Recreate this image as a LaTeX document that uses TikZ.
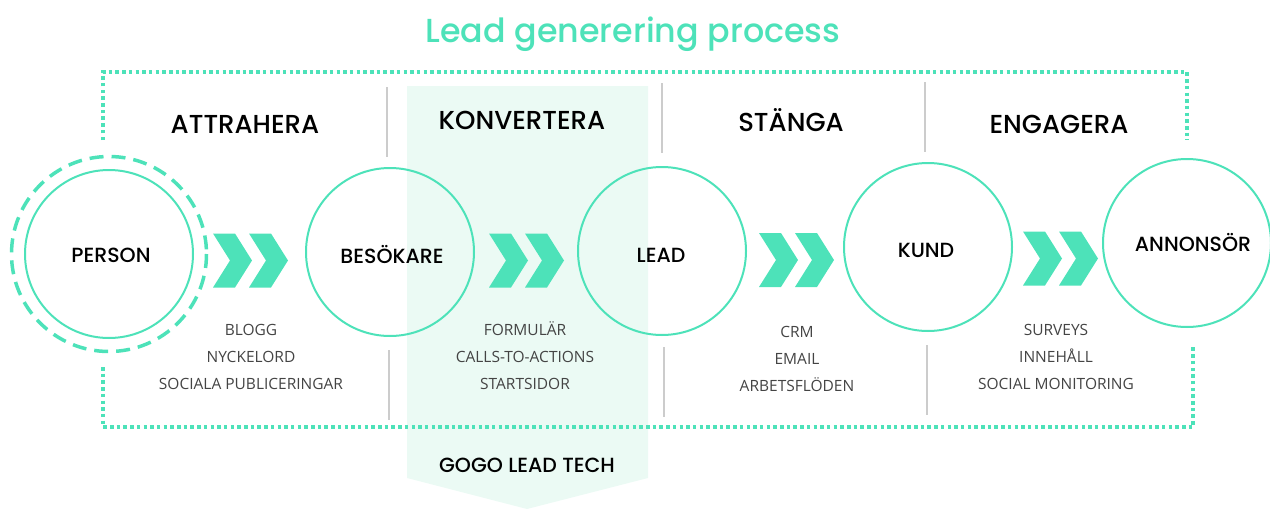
\documentclass[tikz,border=0pt]{standalone}
\usepackage{fontspec}
\setmainfont{Open Sans}
\newfontfamily\geo{Poppins Medium}
\definecolor{mint}{HTML}{4DE2B9}
\definecolor{bandfill}{HTML}{EBFAF4}
\definecolor{sepgray}{HTML}{CCCCCC}
\definecolor{listgray}{HTML}{444444}
\tikzset{
  stage/.style={circle,draw=mint,line width=2pt,minimum size=168pt,inner sep=0pt},
  stagelabel/.style={font=\geo\fontsize{20.5}{20.5}\selectfont,text=black,anchor=base,inner sep=0pt},
  header/.style={font=\geo\fontsize{26}{26}\selectfont,text=black,anchor=base,inner sep=0pt},
  listtext/.style={font=\fontsize{15.5}{27}\selectfont,text=listgray,align=center,anchor=base,inner sep=0pt},
  frameline/.style={mint,line width=3.5pt,dash pattern=on 3.5pt off 3.2pt},
  seprule/.style={sepgray,line width=2pt},
  chevpair/.pic={
    \fill[mint] (0,-27)--(22,-27)--(39,0)--(22,27)--(0,27)--(17,0)--cycle;
    \fill[mint] (36,-27)--(58,-27)--(75,0)--(58,27)--(36,27)--(53,0)--cycle;
  }
}
\begin{document}
\begin{tikzpicture}[x=1pt,y=-1pt]
\useasboundingbox (0,0) rectangle (1270,509);
% band
\fill[bandfill] (407,86) -- (648,86) -- (648,478) -- (527,509) -- (407,478) -- cycle;
% title
\node[font=\geo\fontsize{33.3}{33.3}\selectfont,text=mint,anchor=base,inner sep=0pt] (title) at (633,42) {Lead generering process};
% dotted frame
\draw[frameline] (103,140) -- (103,72) -- (1187,72) -- (1187,140);
\draw[frameline] (103,367) -- (103,427) -- (1193,427) -- (1193,347);
% separators
\draw[seprule] (387,87) -- (387,157);
\draw[seprule] (389,350) -- (389,420);
\draw[seprule] (662,83) -- (662,153);
\draw[seprule] (664,347) -- (664,417);
\draw[seprule] (925,82) -- (925,152);
\draw[seprule] (927,345) -- (927,415);
% circles
\node[stage] (person) at (109,254) {};
\draw[mint,line width=3.5pt,dash pattern=on 14pt off 8pt] (person.center) circle[radius=97.5];
\node[stage] (besokare) at (390,252) {};
\node[stage] (lead) at (662,251) {};
\node[stage] (kund) at (928,247) {};
\node[stage] (annonsor) at (1187,243) {};
% circle labels
\node[stagelabel] (personl) at (111,262) {PERSON};
\node[stagelabel] (besokarel) at (392,263) {BESÖKARE};
\node[stagelabel] (leadl) at (661,262) {LEAD};
\node[stagelabel] (kundl) at (926,257) {KUND};
\node[stagelabel] (annonsorl) at (1193,251) {ANNONSÖR};
% chevrons
\pic at (213,260.5) {chevpair};
\pic at (489,260.5) {chevpair};
\pic at (759,260) {chevpair};
\pic at (1023,258.5) {chevpair};
% headers
\node[header] (h1) at (245,133) {ATTRAHERA};
\node[header] (h2) at (522,129) {KONVERTERA};
\node[header] (h3) at (791,131) {STÄNGA};
\node[header] (h4) at (1059,133) {ENGAGERA};
% lists (base = last line)
\node[listtext] (l1) at (251,389) {BLOGG\\NYCKELORD\\SOCIALA PUBLICERINGAR};
\node[listtext] (l2) at (525,389) {FORMULÄR\\CALLS-TO-ACTIONS\\STARTSIDOR};
\node[listtext] (l3) at (797,391) {CRM\\EMAIL\\ARBETSFLÖDEN};
\node[listtext] (l4) at (1056,389) {SURVEYS\\INNEHÅLL\\SOCIAL MONITORING};
% footer
\node[stagelabel] (tech) at (527,472) {GOGO LEAD TECH};
\end{tikzpicture}
\end{document}
